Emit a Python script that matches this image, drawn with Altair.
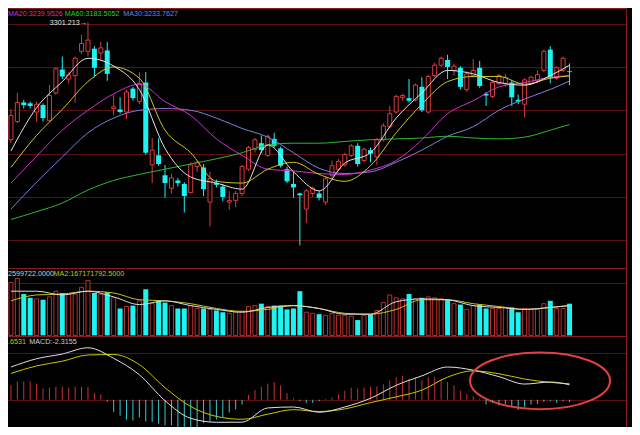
import altair as alt
import pandas as pd

# ---------------- data ----------------
opens = [3166,3187,3209,3208,3198,3206,3188,3220,3247,3236,
         3240,3268,3268,3271,3266,3269,3202,3201,3198,3225,
         3210,3232,3137,3148,3125,3110,3119,3115,3105,3135,
         3134,3094,3116,3112,3094,3096,3104,3132,3155,3162,
         3148,3167,3156,3132,3115,3104,3086,3104,3104,3094,
         3125,3132,3137,3148,3159,3142,3154,3146,3166,3181,
         3198,3215,3214,3212,3227,3198,3240,3252,3258,3246,
         3249,3224,3240,3249,3219,3216,3231,3231,3232,3212,
         3207,3231,3234,3246,3270,3237,3246,3245]
highs = [3201,3220,3212,3210,3210,3208,3229,3249,3262,3244,
         3262,3287,3301.213,3274,3279,3279,3218,3215,3224,3227,
         3244,3244,3168,3168,3137,3127,3122,3117,3140,3142,
         3138,3129,3120,3115,3107,3107,3137,3159,3168,3171,
         3172,3174,3158,3135,3129,3105,3109,3112,3107,3124,
         3142,3144,3151,3161,3162,3157,3157,3168,3185,3205,
         3218,3219,3236,3231,3238,3241,3255,3262,3264,3254,
         3251,3245,3259,3257,3221,3235,3242,3242,3235,3218,
         3237,3240,3246,3270,3274,3251,3262,3254]
lows = [3162,3185,3202,3202,3187,3187,3187,3218,3236,3231,
        3209,3265,3262,3238,3257,3234,3194,3196,3190,3211,
        3207,3149,3116,3136,3099,3104,3112,3082,3104,3129,
        3101,3066,3111,3095,3085,3088,3101,3130,3151,3151,
        3146,3157,3134,3116,3099,3044,3070,3100,3096,3091,
        3122,3130,3135,3146,3135,3140,3140,3137,3164,3179,
        3196,3211,3209,3210,3198,3196,3238,3250,3236,3240,
        3224,3221,3238,3226,3205,3214,3229,3227,3205,3207,
        3192,3229,3231,3244,3231,3235,3244,3229]
closes = [3194,3209,3206,3205,3207,3191,3217,3248,3239,3241,
          3260,3277,3281,3249,3272,3242,3204,3198,3221,3214,
          3231,3151,3154,3138,3116,3122,3116,3101,3137,3140,
          3109,3121,3114,3100,3096,3104,3135,3157,3166,3154,
          3170,3159,3136,3118,3111,3102,3107,3110,3099,3121,
          3136,3141,3149,3159,3138,3155,3150,3166,3182,3196,
          3216,3217,3211,3229,3200,3239,3252,3260,3250,3251,
          3227,3242,3246,3228,3217,3232,3240,3238,3215,3210,
          3235,3238,3241,3268,3237,3249,3260,3244]
# volume, millions
volumes = [297,319,232,211,205,200,216,248,238,232,
           232,270,308,238,232,243,211,151,162,167,
           194,259,178,194,184,167,151,151,167,151,
           151,146,140,130,124,130,135,162,167,178,
           162,167,167,146,151,248,130,124,119,113,
           124,113,113,108,86,113,119,140,184,227,
           211,205,232,205,211,216,211,205,200,178,
           173,146,167,173,151,151,151,157,157,130,
           151,146,146,178,194,151,151,178]
macd_hist = [15,19,19,19,16.7,11.7,12.7,13.4,13.4,12.7,
             13.4,13.4,13.4,6.7,5.7,-2,-12.6,-16.6,-20.6,-21.6,
             -18.3,-22.6,-23,-25,-26.6,-26.6,-30,-30,-29,-28.3,
             -24,-22.6,-20.6,-18.3,-13.3,-10,-5,5,10,13.4,
             16.7,18.4,15,6.7,1.7,-1.6,-3.3,-3.3,-1.6,1,
             2.4,5.7,9.4,12.4,11.7,12.7,13.4,14,16,20,
             23.4,25,21.7,23.4,20,23.4,23.4,21.7,18.4,15,
             9.4,6,3.4,1,-5,-3.3,-6,-4.3,-6.6,-10.6,
             -7.7,-5,-4.3,-2.3,-1.6,-3.3,-1.6,-2.3155]

# indicator lines, read at these candle indices
sample_idx = [0,4,8,12,16,20,24,28,32,36,40,44,48,52,56,60,64,68,72,76,80,84,87]
ma5 = [3153,3203,3233,3260,3251,3224,3156,3123,3116,3109,3160,3129,3107,3139,3151,3191,3220,3246,3242,3232,3229,3240,3252]
ma10 = [3134,3171,3201,3233,3250,3237,3177,3151,3118,3116,3132,3140,3126,3118,3136,3174,3207,3233,3239,3239,3230,3237,3239.7]
ma20 = [3116,3147,3177,3200,3219,3230,3210,3194,3167,3148,3132,3130,3127,3126,3131,3142,3166,3196,3211,3227,3232,3238,3239.95]
ma30 = [3086,3117,3146,3174,3191,3200,3202,3200,3191,3179,3169,3151,3133,3127,3129,3140,3154,3170,3181,3200,3213,3224,3233.76]
ma60 = [3074,3083,3093,3108,3119,3126,3132,3138,3144,3151,3160,3162,3162,3164,3166,3167,3168,3170,3168,3167,3169,3177,3183.51]
vol_ma1 = [248,248,227,248,216,173,194,167,146,130,157,167,151,119,119,189,205,200,167,157,146,157,167]
vol_ma2 = [194,227,232,248,238,200,194,178,151,135,146,167,151,124,119,146,200,200,178,162,146,157,167.17]
dif = [34,42.6,47.5,54,43,26,-1,-19.3,-23.4,-23.3,-8.5,-7.5,-13,-7.5,1.5,15,24.8,34,30.7,24,16.3,18.4,15.5]
dea = [27.3,35.2,40,46.5,47,36.5,12.5,-7,-17.3,-20.3,-15,-10.3,-12.2,-9.5,-3,3,10,23.5,30,27,21.5,18,16.65]

main_labels = ["MA20:3239.9526", "MA60:3183.5052", "MA30:3233.7627"]
vol_labels = ["2599722.0000", "MA2:167171792.5000"]
macd_labels = [".6531", "MACD:-2.3155"]

# highlighted region (candle index, MACD value)
ellipse_i = [82.4]
ellipse_v = [19.7]

# ---------------- styles ----------------
RED = "#d83c3c"
VOLRED = "#b83030"
CYAN = "#1cf4f4"
MCYAN = "#38caca"
MRED = "#c83434"
GRID = "#5a1010"
BORDER = "#8c1c1c"
FONT = "Liberation Sans"
FS = 7.2

W = 618
H_MAIN, H_VOL, H_MACD = 260, 68, 91

n = len(opens)
direction = ["up" if c >= o else "down" for o, c in zip(opens, closes)]
candles = pd.DataFrame({
    "i": list(range(n)), "open": opens, "high": highs, "low": lows,
    "close": closes, "vol": volumes, "hist": macd_hist, "dir": direction,
})

xscale = alt.Scale(domain=[-0.455, 95.79], nice=False, zero=False, padding=0)
xaxis = alt.Axis(orient="top", labels=False, ticks=False, grid=False, title=None,
                 domain=True, domainColor=BORDER, domainWidth=1)


def X():
    return alt.X("i:Q", scale=xscale, axis=xaxis)


def yaxis(values):
    return alt.Axis(orient="right", labels=False, ticks=False, title=None, grid=True,
                    values=values, gridColor=GRID, gridWidth=1,
                    domain=True, domainColor=BORDER, domainWidth=1)


one = pd.DataFrame({"k": [0]})


def label(text, x, y, color):
    return alt.Chart(one).mark_text(
        text=text, color=color, align="left", baseline="middle", fontSize=FS, font=FONT
    ).encode(x=alt.value(x), y=alt.value(y))


# ---------------- main panel ----------------
pscale = alt.Scale(domain=[3018, 3318], nice=False, zero=False)
paxis = yaxis([3050, 3100, 3150, 3200, 3250, 3300])
base = alt.Chart(candles)
up = base.transform_filter(alt.datum.dir == "up")
dn = base.transform_filter(alt.datum.dir == "down")

up_wick = up.mark_rule(color=RED, strokeWidth=1).encode(
    x=X(), y=alt.Y("low:Q", scale=pscale, axis=paxis), y2="high:Q")
up_body = up.mark_bar(size=4, fill="#000000", stroke=RED, strokeWidth=1).encode(
    x=X(), y=alt.Y("open:Q", scale=pscale, axis=paxis), y2="close:Q")
dn_wick = dn.mark_rule(color=CYAN, strokeWidth=1).encode(
    x=X(), y=alt.Y("low:Q", scale=pscale, axis=paxis), y2="high:Q")
dn_body = dn.mark_bar(size=5, color=CYAN).encode(
    x=X(), y=alt.Y("open:Q", scale=pscale, axis=paxis), y2="close:Q")


def line(values, color, scale, axis):
    df = pd.DataFrame({"i": sample_idx, "v": values})
    return alt.Chart(df).mark_line(color=color, strokeWidth=1, interpolate="monotone").encode(
        x=X(), y=alt.Y("v:Q", scale=scale, axis=axis))


ma_layers = [
    line(ma60, "#2eb82e", pscale, paxis),
    line(ma30, "#7c80d8", pscale, paxis),
    line(ma20, "#d232d2", pscale, paxis),
    line(ma10, "#d2c81e", pscale, paxis),
    line(ma5, "#e4e4e4", pscale, paxis),
]

imax = highs.index(max(highs))
peak = pd.DataFrame({"i": [imax], "p": [highs[imax]], "t": [f"{highs[imax]:.3f}→"]})
peak_text = alt.Chart(peak).mark_text(
    align="right", baseline="middle", dx=-1, fontSize=FS, font=FONT, color="#ececec"
).encode(x=X(), y=alt.Y("p:Q", scale=pscale, axis=paxis), text="t:N")

main = alt.layer(
    up_wick, up_body, dn_wick, dn_body, *ma_layers, peak_text,
    label(main_labels[0], 0, 5.5, "#d232d2"),
    label(main_labels[1], 56.8, 5.5, "#2ed02e"),
    label(main_labels[2], 115.3, 5.5, "#6f86e8"),
).properties(width=W, height=H_MAIN)

# ---------------- volume panel ----------------
vscale = alt.Scale(domain=[-3.2, 378], nice=False, zero=False)
vaxis = yaxis([291.6])
vol_up = up.mark_bar(size=4, fill="#000000", stroke=VOLRED, strokeWidth=1).encode(
    x=X(), y=alt.Y("vol:Q", scale=vscale, axis=vaxis), y2=alt.datum(0))
vol_dn = dn.mark_bar(size=5, color=CYAN).encode(
    x=X(), y=alt.Y("vol:Q", scale=vscale, axis=vaxis), y2=alt.datum(0))

volume = alt.layer(
    vol_up, vol_dn,
    line(vol_ma2, "#c8c020", vscale, vaxis),
    line(vol_ma1, "#dcdcdc", vscale, vaxis),
    label(vol_labels[0], 0, 5.8, "#d0d0d0"),
    label(vol_labels[1], 45.5, 5.8, "#c8c020"),
).properties(width=W, height=H_VOL)

# ---------------- MACD panel ----------------
mscale = alt.Scale(domain=[-28.3, 66.2], nice=False, zero=False)
maxis = yaxis([0, 49])
hist_pos = base.transform_filter(alt.datum.hist >= 0).mark_rule(color=MRED, strokeWidth=1, clip=True).encode(
    x=X(), y=alt.Y("hist:Q", scale=mscale, axis=maxis), y2=alt.datum(0))
hist_neg = base.transform_filter(alt.datum.hist < 0).mark_rule(color=MCYAN, strokeWidth=1, clip=True).encode(
    x=X(), y=alt.Y("hist:Q", scale=mscale, axis=maxis), y2=alt.datum(0))

ELLIPSE = "M -1 0 A 1 0.405 0 1 1 1 0 A 1 0.405 0 1 1 -1 0 Z"
ell = alt.Chart(pd.DataFrame({"i": ellipse_i, "v": ellipse_v})).mark_point(
    shape=ELLIPSE, size=140 * 140, filled=False, color="#e4403c", strokeWidth=2, opacity=1
).encode(x=X(), y=alt.Y("v:Q", scale=mscale, axis=maxis))

macd = alt.layer(
    hist_pos, hist_neg,
    line(dea, "#c8c800", mscale, maxis),
    line(dif, "#e0e0e0", mscale, maxis),
    ell,
    label(macd_labels[0], 0, 5.8, "#c8c800"),
    label(macd_labels[1], 21.2, 5.8, "#d0d0d0"),
).properties(width=W, height=H_MACD)

chart = alt.vconcat(main, volume, macd, spacing=0).properties(
    background="#000000",
    padding={"left": 0, "top": 0, "right": 6, "bottom": 0},
).configure_view(stroke=None)

chart.save("out.html", embed_options={"renderer": "svg", "actions": False})
